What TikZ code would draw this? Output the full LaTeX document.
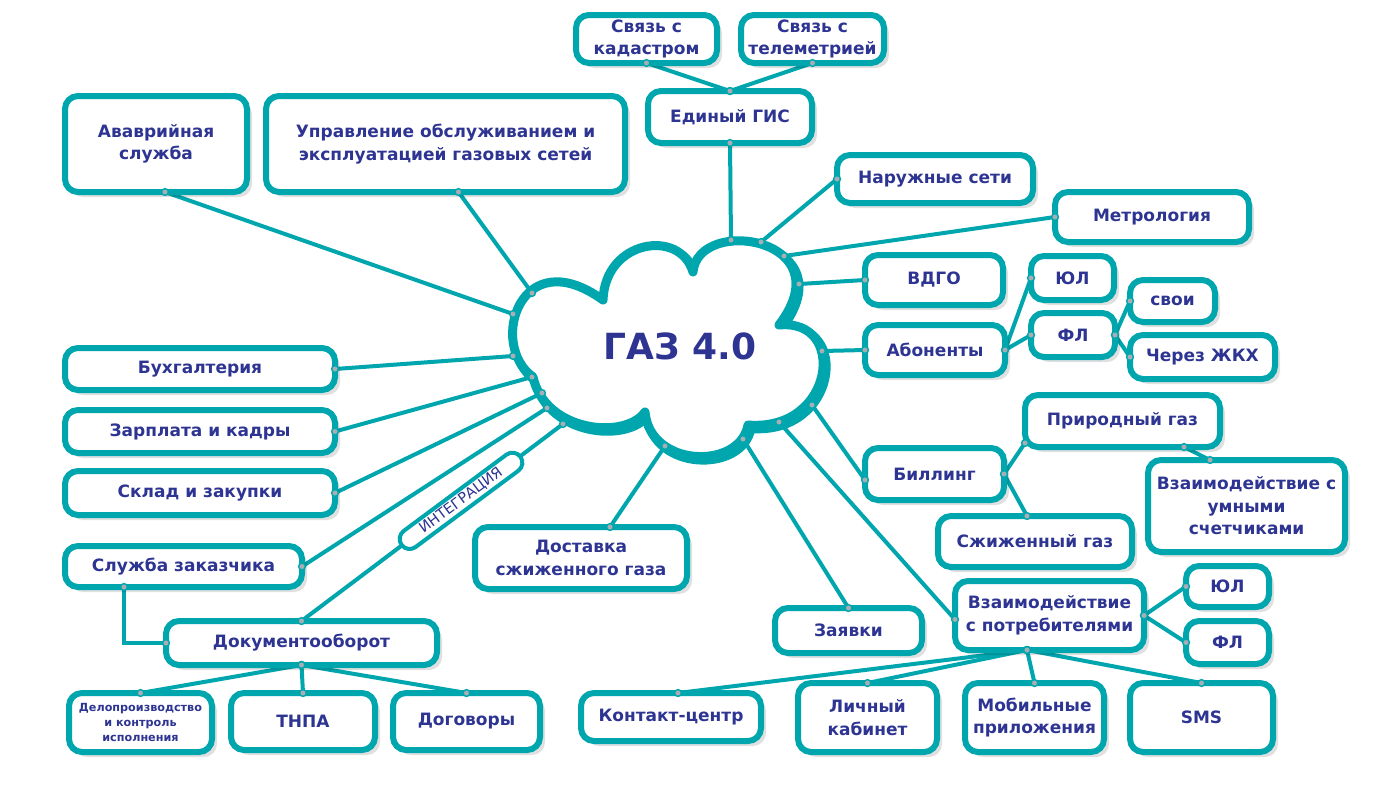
\documentclass[tikz,border=0pt]{standalone}
\usepackage{fontspec}
\setmainfont{DejaVu Sans}
\usetikzlibrary{shapes.misc,shadows,calc}
\definecolor{tealc}{RGB}{0,166,174}
\definecolor{navyc}{RGB}{45,52,146}
\definecolor{dotgray}{RGB}{168,174,180}
\pgfdeclarelayer{bg}\pgfdeclarelayer{edges}\pgfdeclarelayer{cloudl}\pgfdeclarelayer{dots}
\pgfsetlayers{bg,edges,cloudl,main,dots}
\newcommand{\conn}[2]{%
 \begin{pgfonlayer}{edges}\draw[edge] (#1) -- (#2);\end{pgfonlayer}%
 \begin{pgfonlayer}{dots}\path[jdot] (#1) circle[radius=3.4pt] (#2) circle[radius=3.4pt];\end{pgfonlayer}}
\def\cloudpath{(645,412) .. controls (625,440) and (545,432) .. (533,377)
 .. controls (488,345) and (520,240) .. (603,300)
 .. controls (605,240) and (680,228) .. (693,272)
 .. controls (698,215) and (845,238) .. (779,325)
 .. controls (848,318) and (835,432) .. (748,425)
 .. controls (740,470) and (650,468) .. (645,412) -- cycle}
\begin{document}
\begin{tikzpicture}[x=1pt,y=-1pt,
 box/.style={draw=tealc, line width=6pt, rounded corners=13pt, fill=white, text=navyc,
   font=\fontsize{17}{22.5}\selectfont\bfseries, align=center, inner sep=0pt, outer sep=0pt,
   drop shadow={shadow xshift=5pt, shadow yshift=-5pt, fill=black, opacity=0.12}},
 edge/.style={draw=tealc, line width=4pt},
 jdot/.style={fill=dotgray, draw=tealc, line width=1.4pt},
 intlabel/.style={rounded rectangle, draw=tealc, line width=4pt, fill=white, text=navyc,
   font=\fontsize{14.5}{16}\selectfont, inner sep=0pt, outer sep=0pt, minimum width=148pt, minimum height=20pt}]
\begin{pgfonlayer}{bg}
\fill[white] (0,0) rectangle (1399,801);
\end{pgfonlayer}
\useasboundingbox (0,0) rectangle (1399,801);

% cloud
\begin{pgfonlayer}{cloudl}
\draw[tealc, line width=10pt, line join=round, shift={(2.5,3)}] \cloudpath;
\filldraw[fill=white, draw=tealc, line width=9pt, line join=round] \cloudpath;
\end{pgfonlayer}
\node[font=\fontsize{36}{40}\selectfont\bfseries, text=navyc] (gaz) at (680,346) {ГАЗ 4.0};

\coordinate (cT) at (731,240);
\coordinate (cN) at (761,242);
\coordinate (cM) at (784,256);
\coordinate (cV) at (799,284);
\coordinate (cAb) at (822,351);
\coordinate (cB) at (812,405);
\coordinate (cW) at (779,422);
\coordinate (cZ) at (743,439);
\coordinate (cD) at (665,446);
\coordinate (cDo) at (563,424);
\coordinate (cSl) at (547,408);
\coordinate (cS) at (542,393);
\coordinate (cZa) at (532,377);
\coordinate (cBu) at (513,356);
\coordinate (cA) at (513,314);
\coordinate (cU) at (532,293);

% boxes
\node[box, minimum width=141pt, minimum height=48pt] (kad) at (646.5,39) {Связь с\\кадастром};
\node[box, minimum width=143pt, minimum height=48pt] (tel) at (812.5,39) {Связь с\\телеметрией};
\node[box, minimum width=164pt, minimum height=52pt] (gis) at (730,117) {Единый ГИС};
\node[box, minimum width=182pt, minimum height=96pt] (avar) at (156,144) {Ававрийная\\служба};
\node[box, minimum width=359pt, minimum height=96pt] (upr) at (445.5,144) {Управление обслуживанием и\\эксплуатацией газовых сетей};
\node[box, minimum width=196pt, minimum height=48pt] (nar) at (935,179) {Наружные сети};
\node[box, minimum width=194pt, minimum height=50pt] (metr) at (1152,217) {Метрология};
\node[box, minimum width=138pt, minimum height=50pt] (vdgo) at (934,280) {ВДГО};
\node[box, minimum width=83pt, minimum height=44pt] (ul1) at (1072.5,278) {ЮЛ};
\node[box, minimum width=140pt, minimum height=50pt] (abon) at (935,350) {Абоненты};
\node[box, minimum width=84pt, minimum height=44pt] (fl1) at (1073,335) {ФЛ};
\node[box, minimum width=85pt, minimum height=42pt] (svoi) at (1172.5,301) {свои};
\node[box, minimum width=145pt, minimum height=44pt] (zhkh) at (1202.5,357) {Через ЖКХ};
\node[box, minimum width=195pt, minimum height=52pt] (prir) at (1122.5,421) {Природный газ};
\node[box, minimum width=139pt, minimum height=52pt] (bill) at (934.5,474) {Биллинг};
\node[box, minimum width=197pt, minimum height=92pt] (smart) at (1246.5,506) {Взаимодействие с\\умными\\счетчиками};
\node[box, minimum width=194pt, minimum height=51pt] (szh) at (1035,541.5) {Сжиженный газ};
\node[box, minimum width=189pt, minimum height=69pt] (vzp) at (1049.5,615.5) {Взаимодействие\\с потребителями};
\node[box, minimum width=83pt, minimum height=41pt] (ul2) at (1227.5,586.5) {ЮЛ};
\node[box, minimum width=83pt, minimum height=43pt] (fl2) at (1227.5,642.5) {ФЛ};
\node[box, minimum width=147pt, minimum height=45pt] (zayav) at (848.5,630.5) {Заявки};
\node[box, minimum width=180pt, minimum height=48pt] (kc) at (671,717) {Контакт-центр};
\node[box, minimum width=139pt, minimum height=69pt] (lk) at (867.5,717.5) {Личный\\кабинет};
\node[box, minimum width=139pt, minimum height=69pt] (mob) at (1034.5,717.5) {Мобильные\\приложения};
\node[box, minimum width=143pt, minimum height=69pt] (sms) at (1201.5,717.5) {SMS};
\node[box, minimum width=270pt, minimum height=42pt] (buh) at (200,369) {Бухгалтерия};
\node[box, minimum width=270pt, minimum height=43pt] (zarp) at (200,431.5) {Зарплата и кадры};
\node[box, minimum width=270pt, minimum height=44pt] (sklad) at (200,493) {Склад и закупки};
\node[box, minimum width=237pt, minimum height=41pt] (slz) at (183.5,566.5) {Служба заказчика};
\node[box, minimum width=271pt, minimum height=44pt] (doc) at (301.5,643) {Документооборот};
\node[box, minimum width=143pt, minimum height=59pt, font=\fontsize{11.2}{15}\selectfont\bfseries] (delo) at (140.5,722.5) {Делопроизводство\\и контроль\\исполнения};
\node[box, minimum width=144pt, minimum height=57pt] (tnpa) at (303,721.5) {ТНПА};
\node[box, minimum width=147pt, minimum height=57pt] (dog) at (466.5,721.5) {Договоры};
\node[box, minimum width=212pt, minimum height=62pt] (dost) at (581,558) {Доставка\\сжиженного газа};

% connectors
\conn{kad.south}{gis.north}
\conn{tel.south}{gis.north}
\conn{gis.south}{cT}
\conn{[xshift=9pt]avar.south}{cA}
\conn{[xshift=13pt]upr.south}{cU}
\conn{nar.west}{cN}
\conn{metr.west}{cM}
\conn{vdgo.west}{cV}
\conn{abon.west}{cAb}
\conn{[yshift=-6pt]bill.west}{cB}
\conn{[yshift=-4pt]vzp.west}{cW}
\conn{zayav.north}{cZ}
\conn{[xshift=29pt]dost.north}{cD}
\conn{buh.east}{cBu}
\conn{zarp.east}{cZa}
\conn{sklad.east}{cS}
\conn{slz.east}{cSl}
\conn{doc.north}{cDo}
\conn{doc.south}{delo.north}
\conn{doc.south}{tnpa.north}
\conn{doc.south}{dog.north}
\conn{abon.east}{ul1.west}
\conn{abon.east}{fl1.west}
\conn{fl1.east}{svoi.west}
\conn{fl1.east}{zhkh.west}
\conn{bill.east}{[yshift=-22pt]prir.west}
\conn{bill.east}{[xshift=-8pt]szh.north}
\conn{[xshift=61.5pt]prir.south}{[xshift=-36.5pt]smart.north}
\conn{vzp.east}{ul2.west}
\conn{vzp.east}{fl2.west}
\conn{[xshift=-22.5pt]vzp.south}{[xshift=7pt]kc.north}
\conn{[xshift=-22.5pt]vzp.south}{lk.north}
\conn{[xshift=-22.5pt]vzp.south}{mob.north}
\conn{[xshift=-22.5pt]vzp.south}{sms.north}
\begin{pgfonlayer}{edges}
\draw[edge] ([xshift=-59.5pt]slz.south) |- (doc.west);
\end{pgfonlayer}
\begin{pgfonlayer}{dots}
\path[jdot] ([xshift=-59.5pt]slz.south) circle[radius=3.4pt] (doc.west) circle[radius=3.4pt];
\end{pgfonlayer}

\node[intlabel, rotate=36.6] (integ) at ($(doc.north)!0.61!(cDo)$) {ИНТЕГРАЦИЯ};
\end{tikzpicture}
\end{document}
